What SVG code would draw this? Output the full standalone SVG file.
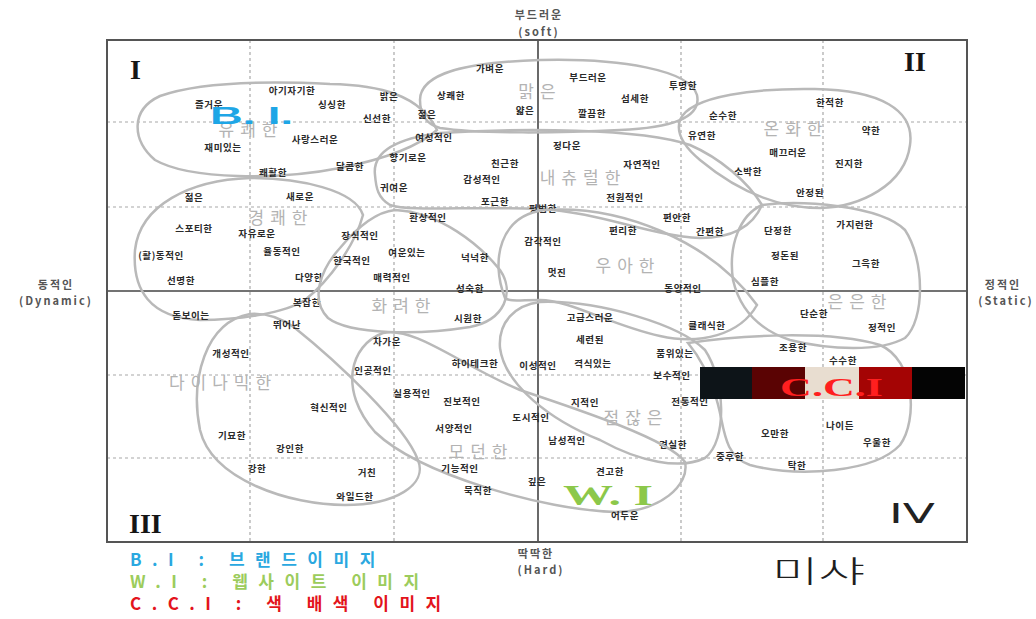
<svg xmlns="http://www.w3.org/2000/svg" width="1036" height="619" viewBox="0 0 1036 619">
<style>
.o{fill:none;stroke:#b9b9b9;stroke-width:2.5}
.w{font-family:"Noto Sans CJK KR","Noto Sans",sans-serif;font-size:9.5px;font-weight:700;fill:#2a2a2a;text-anchor:middle;dominant-baseline:central;letter-spacing:0.6px}
.c{font-family:"Noto Sans CJK KR","Noto Sans",sans-serif;font-size:17px;fill:#b3b3b3;text-anchor:middle;dominant-baseline:central;letter-spacing:6px}
.ax{font-family:"Noto Sans CJK KR","Liberation Sans",sans-serif;font-size:11px;font-weight:700;fill:#555;text-anchor:middle;dominant-baseline:central;letter-spacing:2px}
.q{font-family:"Liberation Serif",serif;font-size:28px;font-weight:700;fill:#151515}
.g{fill:none;stroke:#a8a8a8;stroke-width:1.2;stroke-dasharray:3 3}
.lg{font-family:"Noto Sans CJK KR","Liberation Sans",sans-serif;font-size:17px;font-weight:700;letter-spacing:10.5px}
</style>
<rect width="1036" height="619" fill="#fff"/>
<g id="grid">
<line class="g" x1="107" y1="122" x2="967" y2="122"/>
<line class="g" x1="107" y1="207" x2="967" y2="207"/>
<line class="g" x1="107" y1="375" x2="967" y2="375"/>
<line class="g" x1="107" y1="458" x2="967" y2="458"/>
<line class="g" x1="250" y1="40" x2="250" y2="542"/>
<line class="g" x1="394" y1="40" x2="394" y2="542"/>
<line class="g" x1="681" y1="40" x2="681" y2="542"/>
<line class="g" x1="823" y1="40" x2="823" y2="542"/>
<line x1="538" y1="40" x2="538" y2="542" stroke="#444" stroke-width="1.6"/>
<line x1="107" y1="291" x2="967" y2="291" stroke="#444" stroke-width="1.6"/>
<rect x="107" y="40" width="860" height="502" fill="none" stroke="#555" stroke-width="2"/>
</g>
<g id="axis-labels">
<text class="ax" x="539" y="14">부드러운</text>
<text class="ax" x="539" y="31">(soft)</text>
<text class="ax" x="56" y="284">동적인</text>
<text class="ax" x="56" y="300">(Dynamic)</text>
<text class="ax" x="1003" y="284">정적인</text>
<text class="ax" x="1006" y="300">(Static)</text>
<text class="ax" x="536" y="553">딱딱한</text>
<text class="ax" x="541" y="569">(Hard)</text>
</g>
<g id="quadrants">
<text class="q" x="130" y="79">I</text>
<text class="q" x="904" y="71">II</text>
<text class="q" x="129" y="533">III</text>
<text x="889" y="523" font-family="DejaVu Sans,sans-serif" font-size="26" fill="#222" textLength="46" lengthAdjust="spacingAndGlyphs">IV</text>
</g>
<g id="node-yukwae">
<path class="o" d="M437,130 C420,95 380,85 330,84 C270,81 200,82 160,96 C130,110 132,140 155,160 C190,180 280,180 340,168 C390,158 420,145 437,130 Z"/>
<text class="c" x="251" y="128">유쾌한</text>
<text class="w" x="292" y="90">아기자기한</text>
<text class="w" x="209" y="104">즐거운</text>
<text class="w" x="332" y="104">싱싱한</text>
<text class="w" x="315" y="139">사랑스러운</text>
<text class="w" x="223" y="147">재미있는</text>
<text class="w" x="273" y="172">쾌활한</text>
<text class="w" x="350" y="166">달콤한</text>
</g>
<g id="node-malgeun">
<path class="o" d="M420,100 C420,72 470,62 540,60 C620,58 690,70 697,95 C702,118 670,128 620,130 C560,133 480,134 440,128 C425,124 420,112 420,100 Z"/>
<text class="c" x="540" y="90">맑은</text>
<text class="w" x="490" y="68">가벼운</text>
<text class="w" x="588" y="77">부드러운</text>
<text class="w" x="683" y="85">투명한</text>
<text class="w" x="389" y="96">밝은</text>
<text class="w" x="451" y="95">상쾌한</text>
<text class="w" x="635" y="98">섬세한</text>
<text class="w" x="377" y="118">신선한</text>
<text class="w" x="427" y="114">젊은</text>
<text class="w" x="525" y="110">얇은</text>
<text class="w" x="592" y="113">깔끔한</text>
</g>
<g id="node-onhwa">
<path class="o" d="M680,120 C690,95 760,88 815,89 C880,90 915,110 910,145 C905,185 860,207 820,208 C770,208 730,185 700,160 C682,145 676,132 680,120 Z"/>
<text class="c" x="796" y="127">온화한</text>
<text class="w" x="830" y="102">한적한</text>
<text class="w" x="723" y="115">순수한</text>
<text class="w" x="702" y="135">유연한</text>
<text class="w" x="871" y="130">약한</text>
<text class="w" x="788" y="152">매끄러운</text>
<text class="w" x="849" y="163">진지한</text>
<text class="w" x="748" y="171">소박한</text>
<text class="w" x="810" y="192">안정된</text>
</g>
<g id="node-natural">
<path class="o" d="M375,175 C372,150 400,138 440,133 C520,128 640,128 690,145 C720,158 748,182 762,205 C752,228 730,238 700,238 C650,236 600,212 540,209 C470,206 410,212 390,205 C378,198 376,188 375,175 Z"/>
<text class="c" x="583" y="176">내츄럴한</text>
<text class="w" x="434" y="137">여성적인</text>
<text class="w" x="567" y="145">정다운</text>
<text class="w" x="408" y="157">향기로운</text>
<text class="w" x="505" y="163">친근한</text>
<text class="w" x="642" y="164">자연적인</text>
<text class="w" x="482" y="179">감성적인</text>
<text class="w" x="394" y="187">귀여운</text>
<text class="w" x="495" y="201">포근한</text>
<text class="w" x="625" y="197">전원적인</text>
<text class="w" x="543" y="208">평범한</text>
<text class="w" x="677" y="217">편안한</text>
<text class="w" x="710" y="231">간편한</text>
</g>
<g id="node-gyeongkwae">
<path class="o" d="M363,215 C355,190 300,178 250,178 C190,180 140,205 135,250 C132,290 150,318 200,320 C240,320 285,313 305,300 C330,280 355,245 363,215 Z"/>
<text class="c" x="281" y="216">경쾌한</text>
<text class="w" x="194" y="197">젊은</text>
<text class="w" x="300" y="196">새로운</text>
<text class="w" x="194" y="228">스포티한</text>
<text class="w" x="257" y="233">자유로운</text>
<text class="w" x="161" y="255">(활)동적인</text>
<text class="w" x="282" y="251">율동적인</text>
<text class="w" x="181" y="280">선명한</text>
<text class="w" x="309" y="277">다양한</text>
<text class="w" x="307" y="302">복잡한</text>
<text class="w" x="191" y="315">돋보이는</text>
</g>
<g id="node-hwaryeo">
<path class="o" d="M395,210 C440,212 480,245 500,270 C515,292 505,320 470,327 C420,335 350,335 328,318 C310,300 320,270 340,248 C355,230 375,212 395,210 Z"/>
<text class="c" x="404" y="304">화려한</text>
<text class="w" x="428" y="217">환상적인</text>
<text class="w" x="360" y="235">장식적인</text>
<text class="w" x="407" y="252">여운있는</text>
<text class="w" x="475" y="257">넉넉한</text>
<text class="w" x="352" y="260">한국적인</text>
<text class="w" x="392" y="277">매력적인</text>
<text class="w" x="470" y="288">성숙한</text>
<text class="w" x="468" y="318">시원한</text>
</g>
<g id="node-uaha">
<path class="o" d="M505,298 C490,260 500,215 545,210 C620,205 710,240 757,305 C740,335 700,345 660,336 C610,325 570,300 540,300 C520,300 510,302 505,298 Z"/>
<text class="c" x="628" y="264">우아한</text>
<text class="w" x="623" y="230">편리한</text>
<text class="w" x="543" y="241">감각적인</text>
<text class="w" x="557" y="272">멋진</text>
<text class="w" x="683" y="288">동양적인</text>
<text class="w" x="707" y="325">클래식한</text>
</g>
<g id="node-euneun">
<path class="o" d="M762,205 C800,200 880,205 905,230 C925,260 925,320 905,338 C880,352 830,350 790,340 C760,330 740,310 733,280 C728,245 740,215 762,205 Z"/>
<text class="c" x="860" y="300">은은한</text>
<text class="w" x="778" y="230">단정한</text>
<text class="w" x="855" y="224">가지런한</text>
<text class="w" x="785" y="255">정돈된</text>
<text class="w" x="866" y="263">그윽한</text>
<text class="w" x="765" y="281">심플한</text>
<text class="w" x="814" y="313">단순한</text>
<text class="w" x="882" y="327">정적인</text>
</g>
<g id="node-dynamic">
<path class="o" d="M250,314 C205,322 190,380 200,430 C212,480 290,505 345,505 C395,505 428,485 418,460 C405,425 335,360 295,328 C280,317 265,313 250,314 Z"/>
<text class="c" x="223" y="381">다이나믹한</text>
<text class="w" x="287" y="324">뛰어난</text>
<text class="w" x="231" y="353">개성적인</text>
<text class="w" x="329" y="407">혁신적인</text>
<text class="w" x="232" y="435">기묘한</text>
<text class="w" x="290" y="448">강인한</text>
<text class="w" x="257" y="468">강한</text>
<text class="w" x="367" y="472">거친</text>
<text class="w" x="355" y="496">와일드한</text>
</g>
<g id="node-jeomjan">
<path class="o" d="M540,302 C600,300 680,325 705,350 C725,380 728,440 705,458 C680,470 640,462 600,440 C550,420 505,385 500,348 C498,322 515,305 540,302 Z"/>
<text class="c" x="636" y="416">점잖은</text>
<text class="w" x="590" y="317">고급스러운</text>
<text class="w" x="590" y="339">세련된</text>
<text class="w" x="675" y="353">품위있는</text>
<text class="w" x="538" y="365">이성적인</text>
<text class="w" x="593" y="363">격식있는</text>
<text class="w" x="672" y="375">보수적인</text>
<text class="w" x="585" y="402">지적인</text>
<text class="w" x="690" y="401">전통적인</text>
<text class="w" x="567" y="440">남성적인</text>
<text class="w" x="673" y="444">견실한</text>
</g>
<g id="node-modern">
<path class="o" d="M383,333 C350,345 338,390 375,432 C420,475 545,510 615,512 C660,512 690,485 685,462 C670,440 580,410 520,390 C460,365 415,326 383,333 Z"/>
<text class="c" x="481" y="450">모던한</text>
<text class="w" x="387" y="341">차가운</text>
<text class="w" x="475" y="363">하이테크한</text>
<text class="w" x="373" y="370">인공적인</text>
<text class="w" x="412" y="393">실용적인</text>
<text class="w" x="462" y="401">진보적인</text>
<text class="w" x="531" y="417">도시적인</text>
<text class="w" x="454" y="428">서양적인</text>
<text class="w" x="460" y="468">기능적인</text>
<text class="w" x="478" y="490">묵직한</text>
<text class="w" x="537" y="481">깊은</text>
<text class="w" x="610" y="471">견고한</text>
<text class="w" x="625" y="515">어두운</text>
</g>
<g id="node-junghu">
<path class="o" d="M688,343 C740,335 830,330 880,345 C915,360 918,420 900,445 C875,472 800,478 750,465 C720,455 725,420 715,395 C708,372 698,355 688,343 Z"/>
<text class="w" x="793" y="347">조용한</text>
<text class="w" x="843" y="360">수수한</text>
<text class="w" x="840" y="425">나이든</text>
<text class="w" x="775" y="433">오만한</text>
<text class="w" x="877" y="442">우울한</text>
<text class="w" x="730" y="456">중후한</text>
<text class="w" x="797" y="465">탁한</text>
</g>
<g id="node-cci">
<rect x="700" y="367" width="53" height="32" fill="#0d1418"/>
<rect x="752" y="367" width="54" height="32" fill="#5a0303"/>
<rect x="805" y="367" width="55" height="32" fill="#e8ddd0"/>
<rect x="859" y="367" width="54" height="32" fill="#a40404"/>
<rect x="912" y="367" width="53" height="32" fill="#040404"/>
<text x="780" y="396" font-family="Liberation Serif,serif" font-size="26" font-weight="700" fill="#ff1f1f" textLength="103" lengthAdjust="spacingAndGlyphs">C.C.I</text>
</g>
<g id="node-bi">
<text x="210" y="124" font-family="Liberation Sans,sans-serif" font-size="24" font-weight="700" fill="#1ea6e6" textLength="83" lengthAdjust="spacingAndGlyphs">B. I.</text>
</g>
<g id="node-wi">
<text x="563" y="505" font-family="Liberation Serif,serif" font-size="30" font-weight="700" fill="#8cc84a" textLength="90" lengthAdjust="spacingAndGlyphs">W. I</text>
</g>
<g id="legend">
<text class="lg" x="130" y="566" fill="#2aa8e0">B.I : 브랜드이미지</text>
<text class="lg" x="130" y="588" fill="#9ccc5c">W.I : 웹사이트 이미지</text>
<text class="lg" x="130" y="610" fill="#e3141c">C.C.I :  색 배색 이미지</text>
<text x="772" y="582" font-family="Noto Sans CJK KR,sans-serif" font-size="30" font-weight="300" fill="#1e1e1e" textLength="93" lengthAdjust="spacingAndGlyphs">미샤</text>
</g>
</svg>
